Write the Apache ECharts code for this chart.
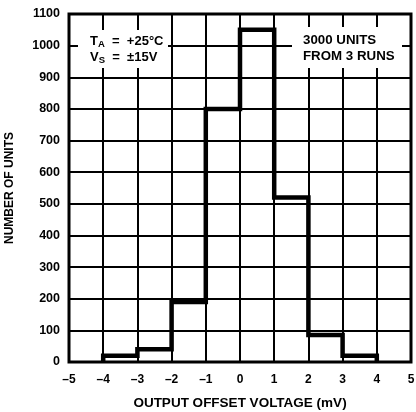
<!DOCTYPE html>
<html>
<head>
<meta charset="utf-8">
<script src="https://cdn.jsdelivr.net/npm/echarts@6/dist/echarts.min.js"></script>
<style>html,body{margin:0;padding:0;background:#fff}#c{width:416px;height:412px}</style>
</head>
<body>
<div id="c"></div>
<script>
// Histogram bins (mV) and counts
var binLeft = [-4, -3, -2, -1, 0, 1, 2, 3];
var binRight = [-3, -2, -1, 0, 1, 2, 3, 4];
var counts = [20, 40, 190, 800, 1050, 520, 85, 20];
var xTicks = [-5, -4, -3, -2, -1, 0, 1, 2, 3, 4, 5];
var yTicks = [0, 100, 200, 300, 400, 500, 600, 700, 800, 900, 1000, 1100];

var pts = [[binLeft[0], 0]];
for (var i = 0; i < counts.length; i++) {
  pts.push([binLeft[i], counts[i]]);
  pts.push([binRight[i], counts[i]]);
}
pts.push([binRight[binRight.length - 1], 0]);

var F = '"Liberation Sans", Arial, sans-serif';
var chart = echarts.init(document.getElementById('c'));
chart.setOption({
  animation: false,
  grid: {left: 69, right: 5, top: 14, bottom: 50, show: true, borderColor: '#000', borderWidth: 3,
    backgroundColor: 'transparent', outerBoundsMode: 'none', containLabel: false},
  xAxis: {
    type: 'value', min: -5, max: 5, interval: 1,
    name: 'OUTPUT OFFSET VOLTAGE (mV)', nameLocation: 'middle', nameGap: 34,
    nameTextStyle: {color: '#000', fontWeight: 'bold', fontSize: 13.5, fontFamily: F},
    axisLine: {show: false}, axisTick: {show: false},
    axisLabel: {color: '#000', fontWeight: 'bold', fontSize: 12, fontFamily: F, margin: 12,
      formatter: function (v) { return v < 0 ? '\u2013' + Math.abs(v) : '' + v; }},
    splitLine: {show: true, lineStyle: {color: '#000', width: 2}}
  },
  yAxis: {
    type: 'value', min: 0, max: 1100, interval: 100,
    name: 'NUMBER OF UNITS', nameLocation: 'middle', nameGap: 53,
    nameTextStyle: {color: '#000', fontWeight: 'bold', fontSize: 12, fontFamily: F},
    axisLine: {show: false}, axisTick: {show: false},
    axisLabel: {color: '#000', fontWeight: 'bold', fontSize: 12.5, fontFamily: F, margin: 9,
      formatter: function (v) { return '' + v; }},
    splitLine: {show: true, lineStyle: {color: '#000', width: 2}}
  },
  series: [{
    type: 'line', data: pts, symbol: 'none', z: 5,
    lineStyle: {color: '#000', width: 4.5, join: 'miter'}
  }],
  graphic: [
    {type: 'rect', shape: {x: 78, y: 30, width: 90, height: 38}, style: {fill: '#fff'}, z: 10},
    {type: 'rect', shape: {x: 292, y: 27, width: 110, height: 41}, style: {fill: '#fff'}, z: 10},
    {type: 'text', x: 90, y: 33, z: 11, style: {
      text: '{m|T}{s|A}{m|  =  +25\u00b0C}\n{m|V}{s|S}{m|  =  \u00b115V}',
      fill: '#000', lineHeight: 16,
      rich: {
        m: {fontFamily: F, fontWeight: 'bold', fontSize: 13, fill: '#000', lineHeight: 16},
        s: {fontFamily: F, fontWeight: 'bold', fontSize: 9.5, fill: '#000', lineHeight: 16, padding: [6, 0, 0, 0]}
      }
    }},
    {type: 'text', x: 303, y: 32, z: 11, style: {
      text: '3000 UNITS\nFROM 3 RUNS', fill: '#000', lineHeight: 16,
      font: 'bold 13.3px ' + F
    }}
  ]
});
</script>
</body>
</html>
